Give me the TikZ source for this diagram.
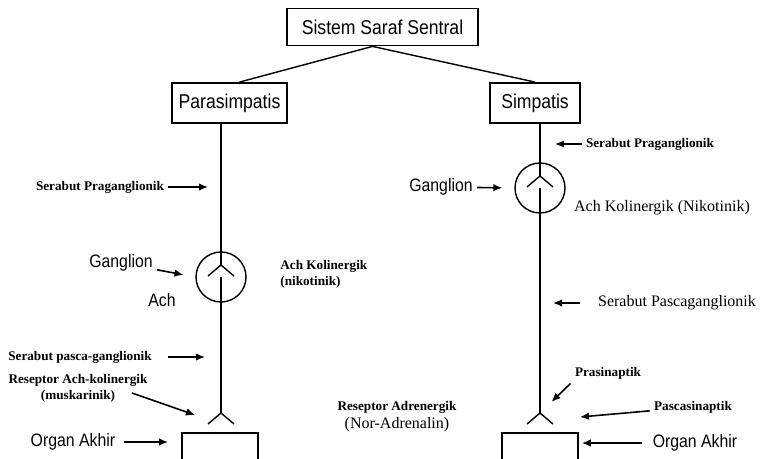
\documentclass[tikz,border=0pt]{standalone}
\usepackage{fontspec}
\setmainfont{Liberation Serif}
\newfontfamily\narrowsf[FakeStretch=0.88]{Liberation Sans}
\usepackage{tikz}
\usetikzlibrary{arrows.meta,positioning,calc}

\tikzset{
  box/.style={draw, line width=0.9pt, inner sep=0pt, font=\narrowsf\fontsize{10}{12}\selectfont},
  gang/.style={circle, draw, line width=0.7pt, minimum size=25pt, inner sep=0pt},
  fibre/.style={line width=0.7pt},
  lblsf/.style={font=\narrowsf\fontsize{9}{11}\selectfont, inner sep=2pt},
  lblsmall/.style={font=\bfseries\fontsize{6.6}{8}\selectfont, align=center, inner sep=2pt},
  lblser/.style={font=\fontsize{8}{10}\selectfont, inner sep=2pt},
  arr/.style={-{Latex[length=4.5pt,width=3.8pt]}, line width=0.8pt}
}

\begin{document}
\begin{tikzpicture}[x=0.5pt, y=-0.5pt]
  \useasboundingbox (0,0) rectangle (760,459);
  \clip (0,0) rectangle (760,459);
  % boxes
  \node[box, minimum width=95.5pt, minimum height=18.5pt] (css) at (382.5,27) {Sistem Saraf Sentral};
  \node[box, minimum width=57.5pt, minimum height=20pt] (para) at (229.5,103) {Parasimpatis};
  \node[box, minimum width=45pt, minimum height=20pt] (simp) at (535,103) {Simpatis};
  \draw[fibre] ($(css.south)+(-10,0)$) -- ($(para.north)+(10,0)$);
  \draw[fibre] ($(css.south)+(-10,0)$) -- (simp.north);
  % ganglia and synapses
  \node[gang] (gl) at (221,277) {};
  \node[gang] (gr) at (540,188) {};
  \coordinate (gla) at (221,265);
  \coordinate (gra) at (540,176);
  \coordinate (yl) at (221,413);
  \coordinate (yr) at (540,413);
  \draw[fibre] (para.south -| gl) -- (gla);
  \draw[fibre] (simp.south -| gr) -- (gra);
  \draw[fibre] (gl.center) -- (yl);
  \draw[fibre] (gr.center) -- (yr);
  \foreach \a in {gla,gra,yl,yr}
    \draw[fibre] ($(\a)+(-13,11)$) -- (\a) -- ($(\a)+(13,11)$);
  % end organs
  \node[draw, line width=0.9pt, minimum width=38pt, minimum height=20pt, anchor=north] (orgl) at (220,432) {};
  \node[draw, line width=0.9pt, minimum width=38pt, minimum height=20pt, anchor=north] (orgr) at (540,432) {};
  % parasympathetic labels
  \node[lblsmall] (lpre) at (100,187) {Serabut Praganglionik};
  \draw[arr, shorten >=6.5pt] (lpre) -- (lpre -| gl);
  \node[lblsf] (lgang) at (121,263) {Ganglion};
  \draw[arr, shorten >=6pt] (lgang) -- (gl.west);
  \node[lblsf] (lach) at (162,300) {Ach};
  \node[lblsmall, align=left, anchor=west] (lachk) at (276,274) {Ach Kolinergik\\(nikotinik)};
  \node[lblsmall] (lpost) at (80,357) {Serabut pasca-ganglionik};
  \draw[arr, shorten <=6pt, shorten >=8pt] (lpost) -- (lpost -| gl);
  \node[lblsmall] (lrec) at (78,388) {Reseptor Ach-kolinergik\\(muskarinik)};
  \coordinate (lrecs) at (132,393);
  \coordinate (lrect) at (195,415);
  \draw[arr] (lrecs) -- (lrect);
  \node[lblsf] (lorg) at (73,442) {Organ Akhir};
  \draw[arr, shorten <=2pt, shorten >=6.5pt] (lorg) -- (lorg -| orgl.west);
  % sympathetic labels
  \node[lblsmall] (rpre) at (650,144) {Serabut Praganglionik};
  \draw[arr, shorten >=7.5pt] (rpre) -- (rpre -| gr);
  \node[lblsf] (rgang) at (441,187) {Ganglion};
  \draw[arr, shorten >=6pt] (rgang) -- (gr.west);
  \node[lblser] (rachk) at (662,208) {Ach Kolinergik (Nikotinik)};
  \node[lblser] (rpost) at (677,303) {Serabut Pascaganglionik};
  \draw[arr, shorten <=7pt, shorten >=6.5pt] (rpost) -- (rpost -| gr);
  \node[lblsmall] (rpras) at (608,373) {Prasinaptik};
  \draw[arr, shorten >=8pt] (rpras.south west) -- (yr);
  \node[lblsmall] (rpasc) at (693,407) {Pascasinaptik};
  \coordinate (rpasct) at (580,417);
  \draw[arr] (rpasc) -- (rpasct);
  \node[align=center, inner sep=2pt] (rrec) at (397,417)
    {{\bfseries\fontsize{6.6}{8}\selectfont Reseptor Adrenergik}\\[-3pt]{\fontsize{8}{9}\selectfont (Nor-Adrenalin)}};
  \node[lblsf] (rorg) at (695,443) {Organ Akhir};
  \draw[arr, shorten <=3pt, shorten >=1.5pt] (rorg) -- (rorg -| orgr.east);
\end{tikzpicture}
\end{document}
